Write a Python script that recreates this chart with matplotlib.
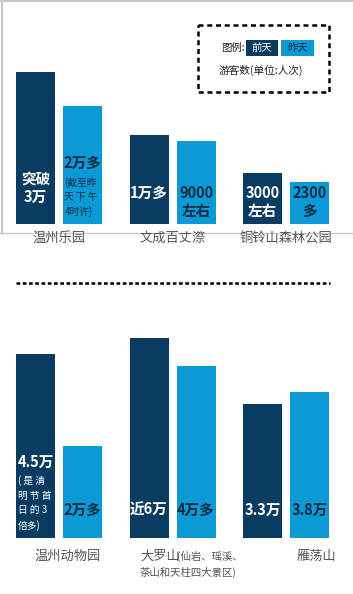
import numpy as np
import matplotlib
matplotlib.use("Agg")
import matplotlib.pyplot as plt
from matplotlib.patches import Rectangle

plt.rcParams['font.family'] = ['Noto Sans CJK SC', 'DejaVu Sans']

# top panel
top_cats = ["温州乐园", "文成百丈漈", "铜铃山森林公园"]
top_before = [152, 89, 51]      # bar heights
top_yday = [118, 83, 42]
top_before_lbl = ["突破\n3万", "1万多", "3000\n左右"]
top_yday_lbl = ["2万多", "9000\n左右", "2300\n多"]

# bottom panel
bot_cats = ["温州动物园", "大罗山", "雁荡山"]
bot_before = [184, 200, 134]
bot_yday = [92, 172, 146]
bot_before_lbl = ["4.5万", "近6万", "3.3万"]
bot_yday_lbl = ["2万多", "4万多", "3.8万"]

DARK = "#0a3c62"
LIGHT = "#0a9ad5"
W, H = 353, 594

fig = plt.figure(figsize=(W / 100, H / 100), dpi=100)

# overlay in pixel coords for frame, legend and separator
ov = fig.add_axes([0, 0, 1, 1])
ov.set_xlim(0, W)
ov.set_ylim(H, 0)
ov.axis("off")

gray = "#c8c8c8"
ov.plot([0, W], [1, 1], color=gray, lw=1.5)
ov.plot([1.5, 1.5], [0, 233], color=gray, lw=1.5)
ov.plot([0, W], [233, 233], color=gray, lw=1)

# legend box
ov.add_patch(Rectangle((198, 25), 131, 67, fill=False, ec="black", lw=1.8,
                       ls=(0, (2, 1.5))))
ov.text(245, 48, "图例:", ha="right", va="center", fontsize=7.5, color="#222")
ov.add_patch(Rectangle((246, 40), 32, 16, fc=DARK, ec="none"))
ov.text(262, 48, "前天", ha="center", va="center", fontsize=7.5, color="white")
ov.add_patch(Rectangle((281, 40), 33, 16, fc=LIGHT, ec="none"))
ov.text(297.5, 48, "昨天", ha="center", va="center", fontsize=7.5, color="#0a2a45")
ov.text(219, 70, "游客数(单位:人次)", ha="left", va="center", fontsize=7.7, color="#222")

# dotted separator
ov.plot([16, 330], [283, 283], color="black", lw=1.8, ls=(0, (1.5, 1)))

group_x = 59 + 113.5 * np.arange(3)
off, bw = 23.5, 39


def panel(base, height, before, yday):
    ax = fig.add_axes([0, 1 - base / H, 1, height / H])
    ax.set_xlim(0, W)
    ax.set_ylim(0, height)
    ax.axis("off")
    ax.bar(group_x - off, before, width=bw, color=DARK)
    ax.bar(group_x + off, yday, width=bw, color=LIGHT)
    return ax


bold = dict(fontsize=10.5, fontweight="bold", ha="center", va="center",
            linespacing=1.2)

# ---- top panel ----
ax1 = panel(224, 170, top_before, top_yday)
ax1.text(group_x[0] - off, 36, top_before_lbl[0], color="white", **bold)
ax1.text(group_x[0] + off, 61, top_yday_lbl[0], color="#0a2a45", **bold)
ax1.text(group_x[0] + off - 18, 27, "(截至昨\n天 下 午\n4时许)", color="#0a2a45",
         fontsize=7, ha="left", va="center", linespacing=1.5)
ax1.text(group_x[1] - off, 31, top_before_lbl[1], color="white", **bold)
ax1.text(group_x[1] + off, 22, top_yday_lbl[1], color="#0a2a45", **bold)
ax1.text(group_x[2] - off, 22, top_before_lbl[2], color="white", **bold)
ax1.text(group_x[2] + off, 22, top_yday_lbl[2], color="#0a2a45", **bold)
for x, c in zip(group_x, top_cats):
    ax1.text(x, -14, c, ha="center", va="center", fontsize=9.5, color="#555",
             clip_on=False)

# ---- bottom panel ----
ax2 = panel(538, 210, bot_before, bot_yday)
ax2.text(group_x[0] - off, 76, bot_before_lbl[0], color="white", **bold)
ax2.text(group_x[0] - off - 18, 35, "( 是 清\n明 节 首\n日 的 3\n倍多)", color="white",
         fontsize=7, ha="left", va="center", linespacing=1.55)
for i in range(3):
    if i > 0:
        ax2.text(group_x[i] - off, 28, bot_before_lbl[i], color="white", **bold)
    ax2.text(group_x[i] + off, 28, bot_yday_lbl[i], color="#0a2a45", **bold)

ax2.text(68, -18, bot_cats[0], ha="center", va="center", fontsize=9.5,
         color="#555", clip_on=False)
ax2.text(140, -18, bot_cats[1], ha="left", va="center", fontsize=9.5,
         color="#555", clip_on=False)
ax2.text(177, -18, "(仙岩、瑶溪、", ha="left", va="center", fontsize=7.5,
         color="#555", clip_on=False)
ax2.text(140, -34, "茶山和天柱四大景区)", ha="left", va="center", fontsize=7.5,
         color="#555", clip_on=False)
ax2.text(316, -18, bot_cats[2], ha="center", va="center", fontsize=9.5,
         color="#555", clip_on=False)

fig.savefig("out.png", dpi=100)
